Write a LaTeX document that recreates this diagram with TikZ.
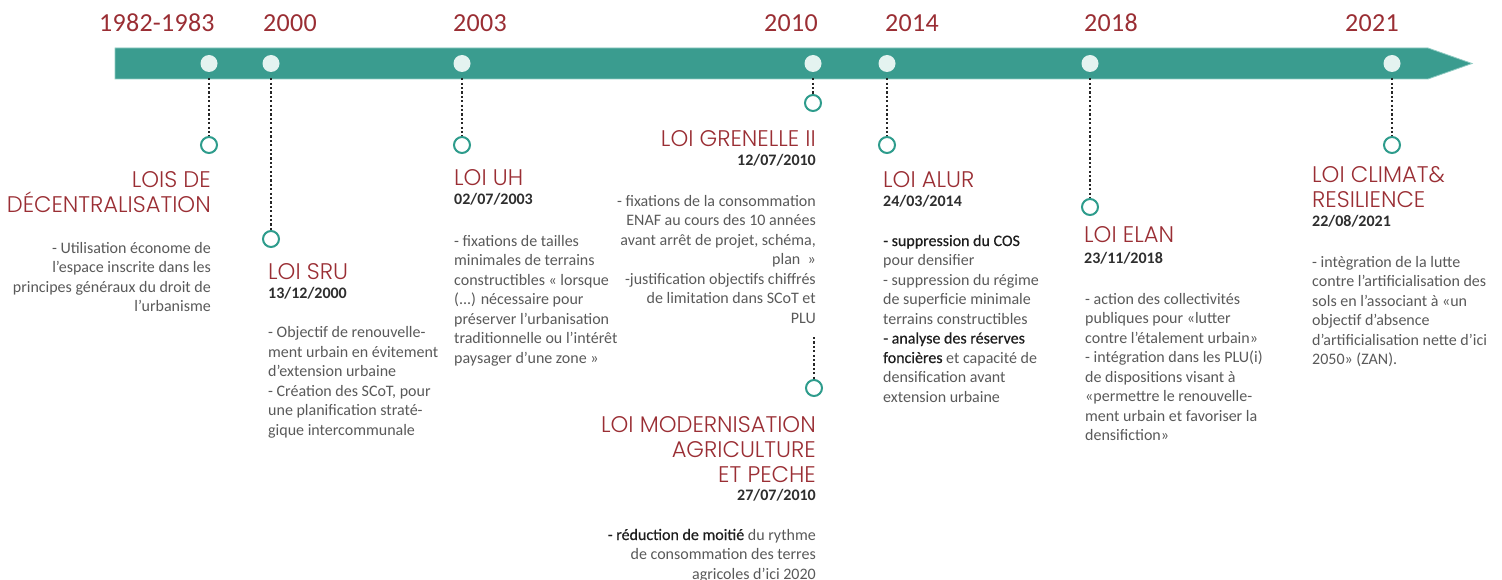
\documentclass[tikz,border=0pt]{standalone}
\usepackage{fontspec}
\setmainfont[Numbers=Monospaced]{Carlito}
\newfontfamily\headfont{Poppins Light}
\newfontfamily\yearfont[Numbers=Monospaced, LetterSpace=1]{Carlito}
\definecolor{barteal}{HTML}{3A9C8F}
\definecolor{baredge}{HTML}{8FCBC2}
\definecolor{lawred}{HTML}{9A2E34}
\definecolor{ringteal}{HTML}{2E9C8C}
\definecolor{dotfill}{HTML}{E4F3F0}
\definecolor{bodygray}{HTML}{595959}
\definecolor{dategray}{HTML}{2E2E2E}
\definecolor{emphtxt}{HTML}{1E1E1E}
\newcommand{\hilite}[1]{{\addfontfeature{FakeBold=0.5}\color{emphtxt}#1}}
\tikzset{
  yearlbl/.style={font=\yearfont\fontsize{26}{30}\selectfont, text=lawred, inner sep=0pt, anchor=base west},
  bardot/.style={circle, fill=dotfill, minimum size=17pt, inner sep=0pt},
  ring/.style={circle, draw=ringteal, line width=2pt, fill=white, minimum size=16pt, inner sep=0pt},
  dotline/.style={draw=black!85, line width=1.3pt, dash pattern=on 2.2pt off 2.2pt},
  lawhead/.style={font=\headfont\fontsize{22.6}{25}\selectfont, text=lawred, inner sep=0pt},
  lawdate/.style={font=\fontsize{16}{19.5}\selectfont\bfseries, text=dategray, inner sep=0pt},
  lawbody/.style={font=\fontsize{16}{19.5}\selectfont, text=bodygray, inner sep=0pt},
}
\begin{document}
\begin{tikzpicture}[x=1pt,y=-1pt]
\useasboundingbox (0,0) rectangle (1502,580);
% timeline bar
\filldraw[fill=barteal, draw=baredge, line width=0.8pt] (115,48) -- (1428,48) -- (1472,63.5) -- (1428,79) -- (115,79) -- cycle;
% years
\node[yearlbl] (y1) at (99,32) {1982-1983};
\node[yearlbl] (y2) at (263,32) {2000};
\node[yearlbl] (y3) at (453,32) {2003};
\node[yearlbl] (y4) at (764,32) {2010};
\node[yearlbl] (y5) at (885,32) {2014};
\node[yearlbl] (y6) at (1084,32) {2018};
\node[yearlbl] (y7) at (1345,32) {2021};
% dots on bar
\node[bardot] (d1) at (209,63.5) {};
\node[bardot] (d2) at (271,63.5) {};
\node[bardot] (d3) at (462,63.5) {};
\node[bardot] (d4) at (813,63.5) {};
\node[bardot] (d5) at (887,63.5) {};
\node[bardot] (d6) at (1090,63.5) {};
\node[bardot] (d7) at (1392,63.5) {};
% rings
\node[ring] (r1) at (209,145) {};
\node[ring] (r2) at (271,239) {};
\node[ring] (r3) at (462,145) {};
\node[ring] (r4a) at (813,103) {};
\node[ring] (r4b) at (814,388) {};
\node[ring] (r5) at (887,145) {};
\node[ring] (r6) at (1090,207) {};
\node[ring] (r7) at (1392,145) {};
\coordinate (g4) at (814,337);
% connectors
\draw[dotline, shorten <=6pt] (d1) -- (r1);
\draw[dotline, shorten <=6pt] (d2) -- (r2);
\draw[dotline, shorten <=6pt] (d3) -- (r3);
\draw[dotline, shorten <=6pt] (d4) -- (r4a);
\draw[dotline] (g4) -- (r4b);
\draw[dotline, shorten <=6pt] (d5) -- (r5);
\draw[dotline, shorten <=6pt] (d6) -- (r6);
\draw[dotline, shorten <=6pt] (d7) -- (r7);
% 1982-1983  (multi-line nodes: base = last line)
\node[lawhead, anchor=base east, align=right] (h1) at (211,213) {LOIS DE\\DÉCENTRALISATION};
\node[lawbody, anchor=base east, align=right] (b1) at (211,311.5) {- Utilisation économe de\\l’espace inscrite dans les\\principes généraux du droit de\\l’urbanisme};
% 2000
\node[lawhead, anchor=base west] (h2) at (268,279) {LOI SRU};
\node[lawdate, anchor=base west] (t2) at (268,298) {13/12/2000};
\node[lawbody, anchor=base west, align=left] (b2) at (268,435) {- Objectif de renouvelle-\\ment urbain en évitement\\d’extension urbaine\\- Création des SCoT, pour\\une planification straté-\\gique intercommunale};
% 2003
\node[lawhead, anchor=base west] (h3) at (454,186) {LOI UH};
\node[lawdate, anchor=base west] (t3) at (454,205) {02/07/2003};
\node[lawbody, anchor=base west, align=left] (b3) at (454,363) {- fixations de tailles\\minimales de terrains\\constructibles « lorsque\\(...) nécessaire pour\\préserver l’urbanisation\\traditionnelle ou l’intérêt\\paysager d’une zone »};
% 2010 Grenelle
\node[lawhead, anchor=base east] (h4a) at (816,147) {LOI GRENELLE II};
\node[lawdate, anchor=base east] (t4a) at (816,166) {12/07/2010};
\node[lawbody, anchor=base east, align=right] (b4a) at (816,323) {- fixations de la consommation\\ENAF au cours des 10 années\\avant arrêt de projet, schéma,\\plan \ »\\-justification objectifs chiffrés\\de limitation dans SCoT et\\PLU};
% 2010 Modernisation
\node[lawhead, anchor=base east, align=right] (h4b) at (816,482) {LOI MODERNISATION\\AGRICULTURE\\ET PECHE};
\node[lawdate, anchor=base east] (t4b) at (816,500) {27/07/2010};
\node[lawbody, anchor=base east, align=right] (b4b) at (816,579) {\hilite{- réduction de moitié} du rythme\\de consommation des terres\\agricoles d’ici 2020};
% 2014
\node[lawhead, anchor=base west] (h5) at (883,188) {LOI ALUR};
\node[lawdate, anchor=base west] (t5) at (883,207) {24/03/2014};
\node[lawbody, anchor=base west, align=left] (b5) at (883,402) {\hilite{- suppression du COS}\\pour densifier\\- suppression du régime\\de superficie minimale\\terrains constructibles\\\hilite{- analyse des réserves}\\\hilite{foncières} et capacité de\\densification avant\\extension urbaine};
% 2018
\node[lawhead, anchor=base west] (h6) at (1084,243) {LOI ELAN};
\node[lawdate, anchor=base west] (t6) at (1084,263) {23/11/2018};
\node[lawbody, anchor=base west, align=left] (b6) at (1085,440.5) {- action des collectivités\\publiques pour «lutter\\contre l’étalement urbain»\\- intégration dans les PLU(i)\\de dispositions visant à\\«permettre le renouvelle-\\ment urbain et favoriser la\\densifiction»};
% 2021
\node[lawhead, anchor=base west, align=left] (h7) at (1312,208) {LOI CLIMAT\&\\RESILIENCE};
\node[lawdate, anchor=base west] (t7) at (1312,227) {22/08/2021};
\node[lawbody, anchor=base west, align=left] (b7) at (1312,364.5) {- intègration de la lutte\\contre l’artificialisation des\\sols en l’associant à «un\\objectif d’absence\\d’artificialisation nette d’ici\\2050» (ZAN).};
\end{tikzpicture}
\end{document}
